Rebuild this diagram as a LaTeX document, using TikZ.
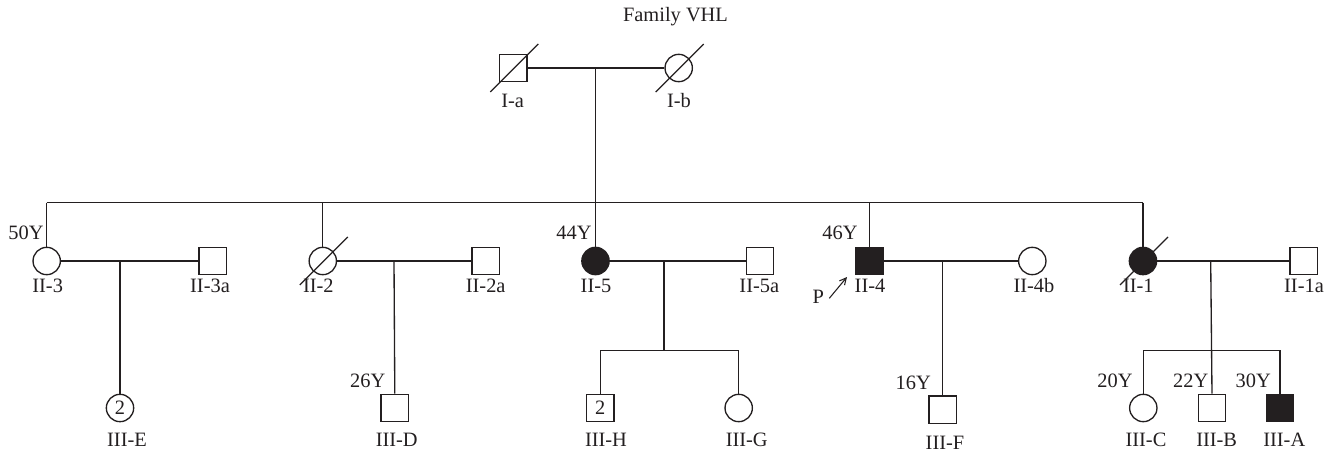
\documentclass[tikz,border=0pt]{standalone}
\usepackage{fontspec}
\setmainfont{Liberation Serif}
\usetikzlibrary{arrows.meta}
\definecolor{ink}{HTML}{231F20}
\begin{document}
\begin{tikzpicture}[x=0.75pt,y=-0.75pt,
  line width=1pt, draw=ink,
  every node/.style={font=\fontsize{15.3}{18}\selectfont, text=ink},
  male/.style={draw=ink, line width=1pt, rectangle, minimum size=20.5pt, inner sep=0pt},
  female/.style={draw=ink, line width=1pt, circle, minimum size=20.5pt, inner sep=0pt},
  aff/.style={fill=ink},
  lbl/.style={inner sep=0pt, text height=0.66em, text depth=0pt},
  dec/.style={line width=1pt}]
\useasboundingbox (0,0) rectangle (1336,453);

\node[lbl] (title) at (675.5,17) {Family VHL};

% Generation I
\node[male] (Ia) at (513.3,68) {};
\node[female] (Ib) at (678.7,68) {};
\node[lbl] (Ial) at (512.7,102.7) {I-a};
\node[lbl] (Ibl) at (679,102.7) {I-b};
\coordinate (m1) at (595.5,68);
\coordinate (s1) at (595.5,202.7);
\coordinate (sL) at (46.7,202.7);
\coordinate (sR) at (1143,202.7);
\draw (Ia) -- (Ib);
\draw (m1) -- (s1);
\draw (sL) -- (sR);

% Generation II
\node[female] (II3) at (46.7,261) {};
\node[male] (II3a) at (212.8,261) {};
\node[female] (II2) at (322.8,261) {};
\node[male] (II2a) at (485.8,261) {};
\node[female,aff] (II5) at (595.5,261) {};
\node[male] (II5a) at (760,261) {};
\node[male,aff] (II4) at (869.3,261) {};
\node[female] (II4b) at (1032.3,261) {};
\node[female,aff] (II1) at (1143,261) {};
\node[male] (II1a) at (1303.8,261) {};

\draw (sL) -- (II3.north);
\draw (II2.north |- sL) -- (II2.north);
\draw (s1) -- (II5.north);
\draw (II4.north |- sL) -- (II4.north);
\draw (sR) -- (II1.north);

\draw (II3) -- (II3a);
\draw (II2) -- (II2a);
\draw (II5) -- (II5a);
\draw (II4) -- (II4b);
\draw (II1) -- (II1a);

\node[lbl] at (26,235) (a50) {50Y};
\node[lbl] at (574,235) (a44) {44Y};
\node[lbl] at (840,235) (a46) {46Y};

\node[lbl] (II3l) at (47.7,288.3) {II-3};
\node[lbl] (II3al) at (210,288.3) {II-3a};
\node[lbl] (II2l) at (318.3,288.3) {II-2};
\node[lbl] (II2al) at (485.7,288.3) {II-2a};
\node[lbl] (II5l) at (596,288.3) {II-5};
\node[lbl] (II5al) at (759.3,288.3) {II-5a};
\node[lbl] (II4l) at (870,288.3) {II-4};
\node[lbl] (II4bl) at (1034,288.3) {II-4b};
\node[lbl] (II1l) at (1138.3,288.3) {II-1};
\node[lbl] (II1al) at (1304,288.3) {II-1a};

% proband
\node[lbl] (P) at (818.3,299) {P};
\coordinate (pa) at (829.3,298.3);
\coordinate (pb) at (847,277);
\draw[line width=0.8pt,-{Straight Barb[length=5pt,width=5pt]}] (pa) -- (pb);

% deceased slashes
\foreach \n in {Ia,Ib,II2,II1}{
  \draw[dec] ([shift={(-23,24)}]\n.center) -- ([shift={(25,-24)}]\n.center);
}

% Generation III
\coordinate (c3) at (120,261);
\node[female] (IIIE) at (120,408) {2};
\draw (c3) -- (IIIE.north);
\node[lbl] (IIIEl) at (127,442) {III-E};

\coordinate (c2) at (394,261);
\node[male] (IIID) at (394.8,408) {};
\draw (c2) -- (IIID.north);
\node[lbl] at (367.7,382.7) (a26) {26Y};
\node[lbl] (IIIDl) at (396.7,442) {III-D};

\coordinate (c5) at (664,261);
\coordinate (s5) at (664,350.7);
\node[male] (IIIH) at (600.3,408) {2};
\node[female] (IIIG) at (738.7,408) {};
\draw (c5) -- (s5);
\draw (IIIH.north) -- (IIIH.north |- s5) -- (IIIG.north |- s5) -- (IIIG.north);
\node[lbl] (IIIHl) at (606,442) {III-H};
\node[lbl] (IIIGl) at (746.7,442) {III-G};

\coordinate (c4) at (942.5,261);
\node[male] (IIIF) at (942.5,409.5) {};
\draw (c4) -- (IIIF.north);
\node[lbl] at (913.3,385) (a16) {16Y};
\node[lbl] (IIIFl) at (945,445) {III-F};

\coordinate (c1) at (1210.7,261);
\coordinate (s6) at (1210.7,350.7);
\node[female] (IIIC) at (1143.3,408) {};
\node[male] (IIIB) at (1212,408) {};
\node[male,aff] (IIIA) at (1280,408) {};
\draw (c1) -- (IIIB.north);
\draw (IIIC.north) -- (IIIC.north |- s6) -- (IIIA.north |- s6) -- (IIIA.north);
\node[lbl] at (1115,382.7) (a20) {20Y};
\node[lbl] at (1190.7,382.7) (a22) {22Y};
\node[lbl] at (1253.3,382.7) (a30) {30Y};
\node[lbl] (IIICl) at (1146,442) {III-C};
\node[lbl] (IIIBl) at (1216.7,442) {III-B};
\node[lbl] (IIIAl) at (1284.3,442) {III-A};
\end{tikzpicture}
\end{document}
